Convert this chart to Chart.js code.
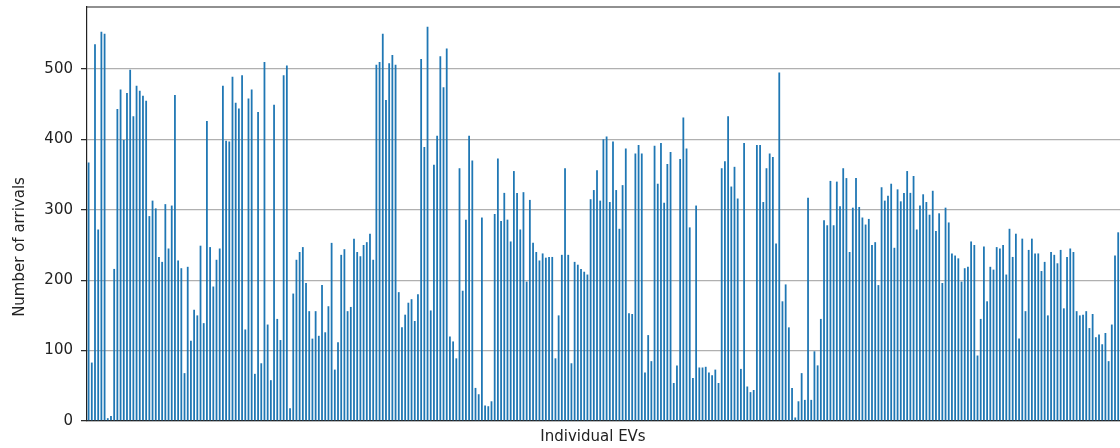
<!DOCTYPE html>
<html>
<head>
<meta charset="utf-8">
<script src="https://cdn.jsdelivr.net/npm/chart.js@4"></script>
<style>
  html, body { margin: 0; padding: 0; background: #fff; overflow: hidden; }
  #wrap { width: 1120px; height: 448px; overflow: hidden; }
</style>
</head>
<body>
<div id="wrap"><canvas id="c" width="1125" height="448"></canvas></div>
<script>
// arrivals per EV left to right
const arrivals = [
  367, 83, 535, 272, 553, 550, 4, 7, 216, 443, 471, 399, 466, 499, 433, 476, 469, 462, 455, 291,
  313, 302, 233, 226, 308, 245, 306, 463, 228, 217, 68, 219, 114, 158, 150, 249, 139, 426, 247, 191,
  229, 245, 476, 398, 397, 489, 452, 444, 491, 130, 458, 471, 67, 439, 82, 510, 137, 58, 449, 145,
  115, 491, 505, 18, 181, 229, 240, 247, 196, 156, 117, 156, 121, 193, 126, 163, 253, 73, 112, 236,
  244, 156, 162, 259, 240, 234, 250, 254, 266, 229, 506, 510, 550, 456, 508, 520, 506, 183, 133, 151,
  168, 173, 142, 180, 514, 389, 560, 157, 364, 405, 518, 474, 529, 120, 113, 89, 359, 185, 286, 405,
  370, 47, 38, 289, 22, 21, 28, 294, 373, 284, 324, 286, 255, 355, 324, 272, 325, 198, 314, 253,
  240, 228, 238, 232, 233, 233, 89, 150, 236, 359, 236, 82, 226, 222, 216, 212, 208, 315, 328, 356,
  313, 400, 404, 311, 397, 328, 273, 335, 387, 153, 152, 380, 392, 380, 69, 122, 85, 391, 337, 395,
  310, 365, 382, 54, 79, 372, 431, 387, 275, 61, 306, 76, 76, 77, 69, 65, 73, 54, 359, 369,
  433, 333, 361, 316, 74, 395, 49, 41, 44, 392, 392, 311, 359, 380, 375, 252, 495, 170, 194, 133,
  47, 5, 28, 68, 30, 317, 30, 99, 79, 145, 285, 278, 341, 278, 340, 305, 359, 345, 240, 303,
  345, 304, 289, 279, 287, 250, 254, 193, 332, 313, 320, 337, 246, 329, 312, 324, 355, 324, 348, 272,
  306, 322, 311, 293, 327, 270, 295, 196, 303, 282, 238, 235, 231, 198, 217, 219, 255, 250, 93, 145,
  248, 170, 219, 215, 247, 245, 250, 208, 273, 233, 266, 117, 259, 156, 243, 259, 238, 238, 213, 226,
  150, 240, 236, 224, 243, 160, 233, 245, 240, 156, 150, 151, 156, 132, 152, 119, 123, 109, 125, 85,
  137, 235, 268, 185
];
const evLabels = arrivals.map((_, i) => 'EV ' + (i + 1));
const yTicks = [0, 100, 200, 300, 400, 500];
const xTitle = 'Individual EVs';
const yTitle = 'Number of arrivals';

const FONT = '"DejaVu Sans", sans-serif';

// top/right spines + axis titles placed like the matplotlib figure
const frame = {
  id: 'frame',
  afterDraw(chart) {
    const { ctx, chartArea: a } = chart;
    ctx.save();
    ctx.strokeStyle = '#222';
    ctx.lineWidth = 1.2;
    ctx.beginPath();
    ctx.moveTo(a.left, a.top);
    ctx.lineTo(a.right, a.top);
    ctx.lineTo(a.right, a.bottom);
    ctx.stroke();

    ctx.fillStyle = '#222';
    ctx.font = '15px ' + FONT;
    ctx.textAlign = 'center';
    ctx.textBaseline = 'middle';
    ctx.fillText(xTitle, 593, 437);
    ctx.translate(20, 247);
    ctx.rotate(-Math.PI / 2);
    ctx.fillText(yTitle, 0, 0);
    ctx.restore();
  }
};

new Chart(document.getElementById('c'), {
  type: 'bar',
  data: {
    labels: evLabels,
    datasets: [{
      data: arrivals,
      backgroundColor: '#1f77b4',
      borderWidth: 0,
      barPercentage: 0.56,
      categoryPercentage: 1.0,
    }]
  },
  options: {
    responsive: false,
    animation: false,
    layout: { padding: { top: 7, right: 2, left: 0, bottom: 0 } },
    plugins: { legend: { display: false }, tooltip: { enabled: false } },
    scales: {
      x: {
        ticks: { display: false },
        grid: { display: false, drawTicks: false },
        border: { display: true, color: '#222', width: 1.2 },
        afterFit: s => { s.height = 27; },
      },
      y: {
        min: 0,
        max: 588,
        afterBuildTicks: s => { s.ticks = yTicks.map(v => ({ value: v })); },
        ticks: { color: '#222', font: { family: FONT, size: 15 }, padding: 8 },
        grid: { color: '#b0b0b0', lineWidth: 1.3, tickLength: 6, tickColor: '#222', tickWidth: 1.2 },
        border: { display: true, color: '#222', width: 1.2 },
        afterFit: s => { s.width = 87; s.paddingTop = 0; s.paddingBottom = 0; },
      }
    }
  },
  plugins: [frame]
});
</script>
</body>
</html>
